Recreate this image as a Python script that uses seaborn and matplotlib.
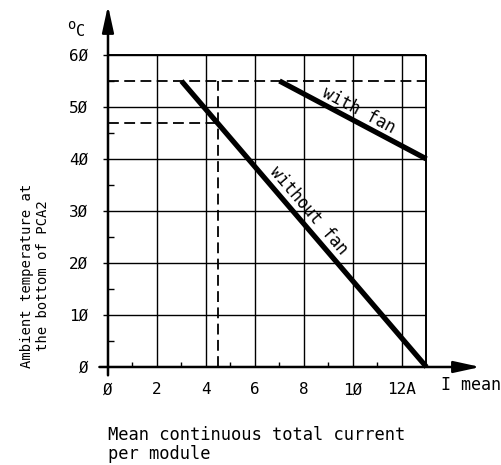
import math
import matplotlib
matplotlib.use("Agg")
import matplotlib.pyplot as plt
import pandas as pd
import seaborn as sns

# Derating curves: ambient temperature vs. mean continuous current
current_without_fan = [3, 13]
temp_without_fan = [55, 0]
current_with_fan = [7, 13]
temp_with_fan = [55, 40]

# Reference levels
temp_max = 55
marked_current = 4.5
marked_temp = 47

x_ticks = [0, 2, 4, 6, 8, 10, 12]
x_tick_labels = ["Ø", "2", "4", "6", "8", "1Ø", "12A"]
y_ticks = [0, 10, 20, 30, 40, 50, 60]
y_tick_labels = ["Ø", "1Ø", "2Ø", "3Ø", "4Ø", "5Ø", "6Ø"]
x_minor = [1, 3, 5, 7, 9, 11]
y_minor = [5, 15, 25, 35, 45, 55]
x_grid_end = 13
y_grid_end = 60

sns.set_style("white")
plt.rcParams["font.family"] = ["DejaVu Sans Mono"]
plt.rcParams["text.color"] = "black"
plt.rcParams["xtick.labelcolor"] = "black"
plt.rcParams["ytick.labelcolor"] = "black"

df = pd.DataFrame({
    "current": current_without_fan + current_with_fan,
    "temp": temp_without_fan + temp_with_fan,
    "cooling": ["without fan"] * len(current_without_fan) + ["with fan"] * len(current_with_fan),
})

fig = plt.figure(figsize=(5.02, 4.65), dpi=100)
ax = fig.add_axes([0.1956, 0.1884, 0.7711, 0.8052])
ax.set_xlim(-0.4, 15.4)
ax.set_ylim(-2, 70)
for s in ax.spines.values():
    s.set_visible(False)

# grid
ax.hlines(y_ticks[1:], -0.22, x_grid_end, color="black", lw=1.0, zorder=1)
ax.vlines(x_ticks[1:], 0, y_grid_end, color="black", lw=1.0, zorder=1)
ax.vlines([x_grid_end], 0, y_grid_end, color="black", lw=1.4, zorder=1)
ax.hlines([y_grid_end], 0, x_grid_end, color="black", lw=1.4, zorder=1)

# minor ticks pointing into the plot
ax.hlines(y_minor, 0, 0.25, color="black", lw=1.0, zorder=2)
ax.vlines(x_minor, 0, 1.0, color="black", lw=1.0, zorder=2)

# dashed reference lines
dash = (0, (6, 3))
ax.hlines([temp_max], 0, x_grid_end, color="black", lw=1.3, linestyles=[dash], zorder=2)
ax.hlines([marked_temp], 0, marked_current, color="black", lw=1.3, linestyles=[dash], zorder=2)
ax.vlines([marked_current], 0, temp_max, color="black", lw=1.3, linestyles=[dash], zorder=2)

# axes with arrows
arrow = dict(arrowstyle="-|>,head_length=1.6,head_width=0.35", lw=1.8, color="black",
             shrinkA=0, shrinkB=0, mutation_scale=10)
ax.annotate("", xy=(15.2, 0), xytext=(-0.35, 0), arrowprops=arrow, annotation_clip=False)
ax.annotate("", xy=(0, 69.5), xytext=(0, -1.6), arrowprops=arrow, annotation_clip=False)

# derating curves
sns.lineplot(data=df, x="current", y="temp", hue="cooling", units="cooling", estimator=None,
             palette={"without fan": "black", "with fan": "black"}, linewidth=3.8,
             legend=False, ax=ax, zorder=3, solid_capstyle="butt")

ax.set_xticks(x_ticks, x_tick_labels)
ax.set_yticks(y_ticks, y_tick_labels)
ax.tick_params(axis="both", length=0, labelsize=11.5, labelcolor="black")
ax.tick_params(axis="x", pad=3.5)
ax.tick_params(axis="y", pad=7)
ax.set_xlabel("")
ax.set_ylabel("")

fig.canvas.draw()


def angle(xs, ys):
    p1 = ax.transData.transform((xs[0], ys[0]))
    p2 = ax.transData.transform((xs[1], ys[1]))
    return math.degrees(math.atan2(p2[1] - p1[1], p2[0] - p1[0]))


ax.text(10.24, 49.4, "with fan", rotation=angle(current_with_fan, temp_with_fan),
        rotation_mode="anchor", ha="center", va="center", fontsize=12)
ax.text(8.2, 30.0, "without fan", rotation=angle(current_without_fan, temp_without_fan),
        rotation_mode="anchor", ha="center", va="center", fontsize=12)

ax.text(13.6, -3.5, "I mean", ha="left", va="center", fontsize=12, clip_on=False)

# unit label above the temperature axis
fig.text(71 / 502, 1 - 25 / 465, "o", ha="center", va="center", fontsize=10)
fig.text(81 / 502, 1 - 32 / 465, "C", ha="center", va="center", fontsize=11)

fig.text(35 / 502, 1 - 276 / 465, "Ambient temperature at\nthe bottom of PCA2",
         rotation=90, ha="center", va="center", fontsize=10, linespacing=1.15,
         multialignment="center")
fig.text(108 / 502, 1 - 426 / 465, "Mean continuous total current\nper module",
         ha="left", va="top", fontsize=12.3, linespacing=1.05)

fig.savefig("out.png", dpi=100, facecolor="white")
